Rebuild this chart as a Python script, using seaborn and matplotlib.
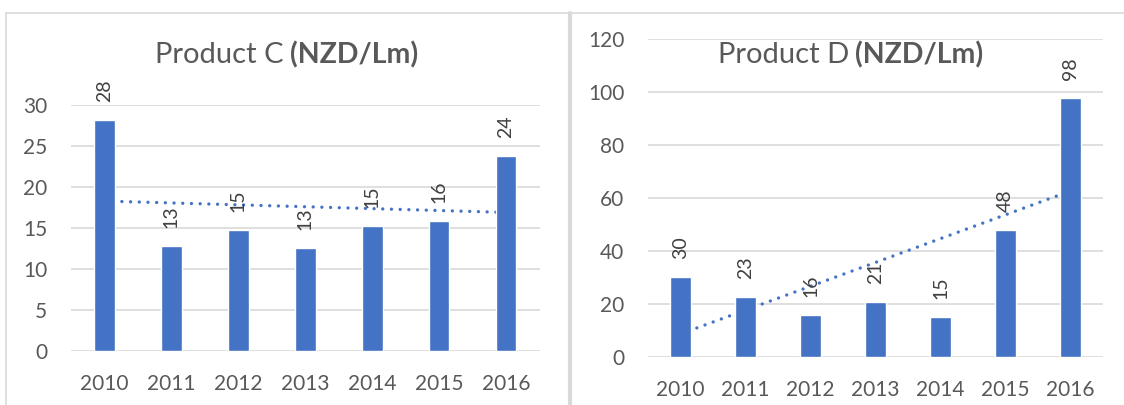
import numpy as np
import matplotlib
matplotlib.use("Agg")
import matplotlib.pyplot as plt
from matplotlib.lines import Line2D
import seaborn as sns

# data
years = ["2010", "2011", "2012", "2013", "2014", "2015", "2016"]
product_c = [28.2, 12.8, 14.7, 12.6, 15.2, 15.9, 23.8]
product_d = [30.1, 22.6, 15.6, 20.6, 14.8, 47.8, 97.5]
labels_c = ["28", "13", "15", "13", "15", "16", "24"]
labels_d = ["30", "23", "16", "21", "15", "48", "98"]

sns.set_style("white")
plt.rcParams["font.family"] = ["Lato", "DejaVu Sans"]

blue = "#4472C4"
text_col = "#595959"
grid_col = "#D9D9D9"

fig = plt.figure(figsize=(11.24, 4.05), dpi=100)
ax_c = fig.add_axes([71 / 1124, 54.3 / 405, 468.5 / 1124, 245.4 / 405])
ax_d = fig.add_axes([648 / 1124, 48.3 / 405, 455 / 1124, 318 / 405])


def draw_panel(ax, values, labels, ymax, step):
    sns.barplot(x=years, y=values, color=blue, width=0.31, saturation=1, ax=ax, zorder=2)
    # linear trendline, sits behind the bars like in Excel
    idx = np.arange(len(values))
    slope, icpt = np.polyfit(idx, values, 1)
    ax.plot(idx, slope * idx + icpt, color=blue, lw=2.4,
            linestyle=(0, (0.01, 2.6)), dash_capstyle="round", zorder=1)
    for i, (v, lab) in enumerate(zip(values, labels)):
        ax.annotate(lab, xy=(i, v), xytext=(0, 13), textcoords="offset points",
                    rotation=90, ha="center", va="bottom", fontsize=14,
                    color="#404040", zorder=3)
    ax.set_xlim(-0.5, len(values) - 0.5)
    ax.set_ylim(0, ymax)
    ax.set_yticks(np.arange(0, ymax + 1, step))
    ax.yaxis.grid(True, color=grid_col, lw=1.2)
    ax.set_axisbelow(True)
    for s in ax.spines.values():
        s.set_visible(False)
    ax.tick_params(axis="both", length=0, labelsize=15, labelcolor=text_col, pad=17)
    ax.set_xlabel("")
    ax.set_ylabel("")


draw_panel(ax_c, product_c, labels_c, 30, 5)
draw_panel(ax_d, product_d, labels_d, 120, 20)

# titles: plain name + bold unit
ty = 1 - 55 / 405
fig.text(284 / 1124, ty, "Product C", ha="right", va="center", fontsize=21, color=text_col)
fig.text(290 / 1124, ty, "(NZD/Lm)", ha="left", va="center", fontsize=20.5,
         color=text_col, weight="bold")
fig.text(849 / 1124, ty, "Product D", ha="right", va="center", fontsize=21, color=text_col)
fig.text(855 / 1124, ty, "(NZD/Lm)", ha="left", va="center", fontsize=20.5,
         color=text_col, weight="bold")

# chart frames
top = 1 - 13 / 405
fig.add_artist(Line2D([6 / 1124, 1], [top, top], color=grid_col, lw=1.2))
fig.add_artist(Line2D([6.5 / 1124, 6.5 / 1124], [0, top], color=grid_col, lw=1.2))
fig.add_artist(Line2D([569.5 / 1124, 569.5 / 1124], [0, top], color=grid_col, lw=3))

fig.savefig("out.png", dpi=100)
